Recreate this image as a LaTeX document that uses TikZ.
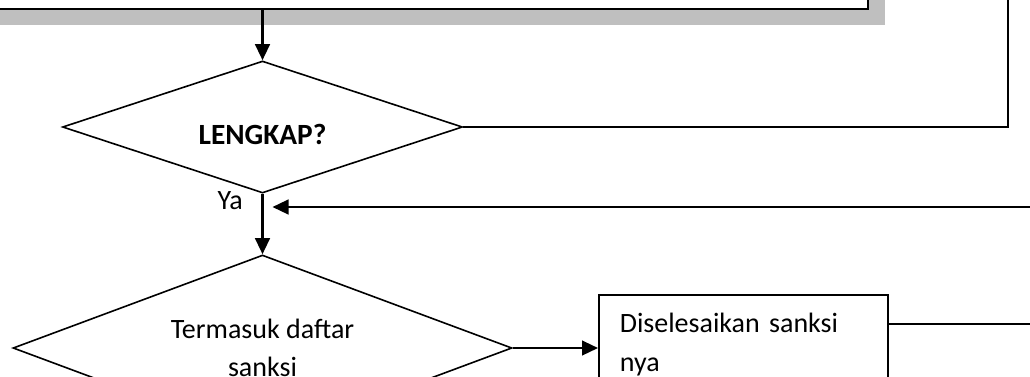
\documentclass[tikz,border=0pt]{standalone}
\usepackage{fontspec}
\setmainfont{Carlito}
\usetikzlibrary{arrows.meta,positioning,shapes.geometric,shadows}
\definecolor{bayang}{RGB}{191,191,191}
\tikzstyle{kotak}=[draw, fill=white, line width=1.7pt, general shadow={fill=bayang, shadow xshift=12.75pt, shadow yshift=-12pt}]
\tikzstyle{putusan}=[draw, diamond, line width=1.2pt, inner sep=0pt, align=center]
\tikzstyle{proses}=[draw, line width=1.2pt, align=left]
\tikzstyle{garis}=[line width=1.7pt]

\begin{document}
\begin{tikzpicture}[x=0.75pt,y=-0.75pt,>={Triangle[length=12pt,width=11pt]},font=\fontsize{21}{29}\selectfont]
		    \useasboundingbox (0,0) rectangle (1030,376);
		    \node [kotak, minimum width=674pt, minimum height=82.5pt, anchor=south east] (cek) at (869,10) {};
		    \node [putusan, aspect=3, minimum width=300pt, minimum height=99pt, text height=25.5pt, text depth=0pt] (lengkap) at (262.5,127) {\fontsize{22}{29}\selectfont\textbf{LENGKAP?}};
		    \node [putusan, aspect=2.7, minimum width=374.25pt, minimum height=139.5pt] (sanksi) [below of=lengkap, node distance=165.75pt] {Termasuk daftar\\sanksi};
		    \node [proses, anchor=north west, text width=185.25pt, inner xsep=15.75pt, inner ysep=13.8pt] (selesai) at (598,294) {Diselesaikan sanksi\\nya};
		    \node [inner sep=0pt] (ya) [below left=-2.25pt and 14.6pt of lengkap.south] {Ya};
		    \coordinate (naik) at (1008,-10);
		    \coordinate (kembali) at (1040,207);
		    \coordinate (keluar) at (1040,324);
		    \path[garis,->]
		    (cek.south -| lengkap.north) edge (lengkap.north)
		    (lengkap.south) edge (sanksi.north)
		    (sanksi.east) edge (sanksi.east -| selesai.west)
		    (kembali) edge ([xshift=7.5pt]kembali -| lengkap.south);
		    \draw[garis] (lengkap.east) -| (naik);
		    \draw[garis] (selesai.east |- keluar) -- (keluar);
		\end{tikzpicture}
\end{document}
